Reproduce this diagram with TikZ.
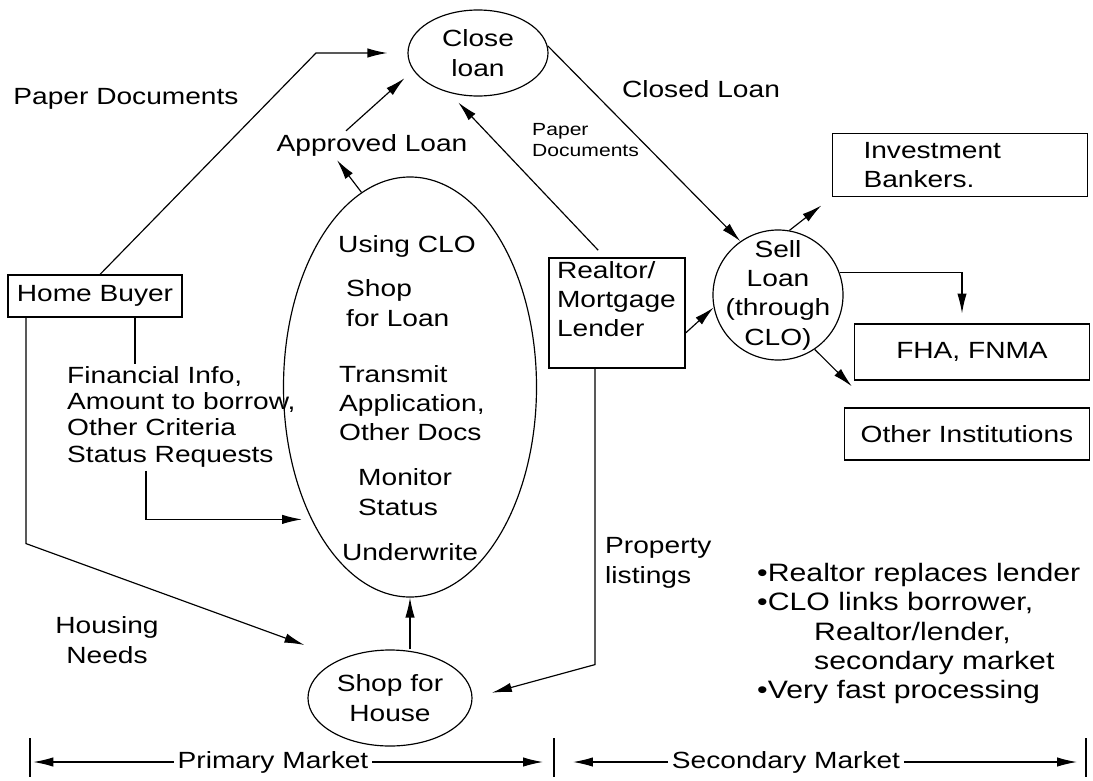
\documentclass[tikz,border=0pt]{standalone}
\usepackage{fontspec}
\setmainfont{Liberation Sans}[FakeStretch=1.2]
\usetikzlibrary{arrows.meta,shapes.geometric,calc}
\pgfdeclarelayer{bg}
\pgfsetlayers{bg,main}
\tikzset{
    every node/.style={inner sep=0mm, align=center, font=\fontsize{20}{25}\selectfont},
    bubble/.style={ellipse, draw, line width=1pt},
    box/.style={rectangle, draw, line width=1pt},
    flow/.style={line width=1pt, -{Latex[length=17pt,width=8pt]}}
}

\begin{document}
\begin{tikzpicture}[x=0.03cm, y=-0.03cm]
        \useasboundingbox (0,0) rectangle (1093,780);
        % processes
        \node (close) [bubble, minimum width=4.2cm, minimum height=2.58cm] at (478,53) {Close\\loan};
        \node (clo) [bubble, minimum width=7.59cm, minimum height=12.6cm] at (410,387) {};
        \node (house) [bubble, minimum width=4.92cm, minimum height=2.88cm] at (390,698) {Shop for\\House};
        \node (sell) [circle, draw, line width=1pt, minimum size=3.9cm, inner sep=-3mm] at (778,295) {Sell\\Loan\\(through\\CLO)};
        % what goes on inside CLO
        \node (using) at (407,246) {Using CLO};
        \node (shop) [anchor=west, align=left] at (346,303) {Shop\\for Loan};
        \node (transmit) [anchor=west, align=left] at (339,403) {Transmit\\Application,\\Other Docs};
        \node (monitor) [anchor=west, align=left] at (358,492) {Monitor\\Status};
        \node (underwrite) at (410,552) {Underwrite};
        % parties
        \node (buyer) [box, minimum width=5.22cm, minimum height=1.26cm] at (95,296) {Home Buyer};
        \node (realtor) [box, inner xsep=.24cm, inner ysep=.1cm] at (617,313)
                {\parbox[c][3.1cm][t]{3.6cm}{Realtor/\\Mortgage\\Lender}};
        \node (bankers) [box, align=left, text width=5.79cm, inner xsep=.93cm, minimum height=1.9cm] at (960,165) {Investment\\Bankers.};
        \node (fha) [box, minimum width=7.05cm, minimum height=1.68cm] at (972,352) {FHA, FNMA};
        \node (other) [box, minimum width=7.35cm, minimum height=1.56cm] at (967,434) {Other Institutions};
        % flow labels
        \node (lpaper) at (126,99) {Paper Documents};
        \node (lapproved) at (372,145) {Approved Loan};
        \node (lclosed) at (701,89) {Closed Loan};
        \node (lpaper2) [anchor=west, align=left, font=\fontsize{15}{18}\selectfont] at (532,140) {Paper\\Documents};
        \node (linfo) [anchor=north west, align=left, font=\fontsize{20}{22.5}\selectfont] at (67,366) {Financial Info,\\Amount to borrow,\\Other Criteria\\Status Requests};
        \node (lhousing) at (107,640) {Housing\\Needs};
        \node (lprop) [anchor=west, align=left] at (605,563) {Property\\listings};
        \node (notes) [anchor=north west, align=left, font=\fontsize{21.5}{25}\selectfont] at (757,563) {•Realtor replaces lender\\•CLO links borrower,\\\hspace*{1.71cm}Realtor/lender,\\\hspace*{1.71cm}secondary market\\•Very fast processing};
        \node (lprimary) [inner xsep=3pt] at (273,762) {Primary Market};
        \node (lsecondary) [inner xsep=3pt] at (786,762) {Secondary Market};
        \coordinate (p1) at (316,53);
        \coordinate (f0) at ([xshift=1.2cm]buyer.south);
        \coordinate (s0) at ([xshift=2.37cm]linfo.south west);
        \coordinate (h0) at ([xshift=-2.07cm]buyer.south);
        \coordinate (h1) at ($(h0)+(0,226)$);
        \coordinate (r0) at ([xshift=-.66cm]realtor.south);
        \coordinate (r1) at ($(r0)+(0,296)$);
        \coordinate (t1) at (30,762);
        \coordinate (t2) at (554,762);
        \coordinate (t3) at (1086,762);
        \begin{pgfonlayer}{bg}
                \draw[flow, shorten >=.6cm] ([xshift=.15cm]buyer.north) -- (p1) -- (close.west);
                \draw[flow] (clo.104) -- ($(lapproved.south)+(-35,4)$);
                \draw[flow, shorten >=.35cm] ($(lapproved.north)+(-26,-3)$) -- (close.195);
                \draw[flow, shorten <=.3cm, shorten >=.4cm] ([xshift=-.36cm]realtor.north) -- (close.234);
                \draw[flow] (close.6) -- (sell.125);
                \draw[flow] ([yshift=-.6cm]realtor.east) -- (sell.191);
                \draw[flow, shorten >=.4cm] (sell.80) -- (bankers.south west);
                \draw[flow, shorten >=.3cm] (sell.20) -| ([xshift=-.3cm]fha.north);
                \draw[flow] (sell.-56) -- ($(other.north west)+(8,-21)$);
                \draw[line width=1pt, shorten >=2pt] (f0) -- (f0 |- linfo.north);
                \draw[flow, shorten <=3pt] (s0) |- ($(s0)+(156,52)$);
                \draw[flow] (h0) -- (h1) -- ($(house.west)+(-3,-53)$);
                \draw[flow] (clo.south |- house.north) -- (clo.south);
                \draw[flow, shorten >=.6cm] (r0) -- (r1) -- (house.east);
                % market brackets
                \foreach \t in {t1,t2,t3}
                        \draw[line width=1pt] ($(\t)+(0,-24)$) -- ($(\t)+(0,15)$);
                \draw[flow, shorten >=.1cm] (lprimary.west) -- (t1);
                \draw[flow, shorten >=.33cm] (lprimary.east) -- (t2);
                \draw[flow, shorten >=.57cm] (lsecondary.west) -- (t2);
                \draw[flow, shorten >=.27cm] (lsecondary.east) -- (t3);
        \end{pgfonlayer}
\end{tikzpicture}
\end{document}
